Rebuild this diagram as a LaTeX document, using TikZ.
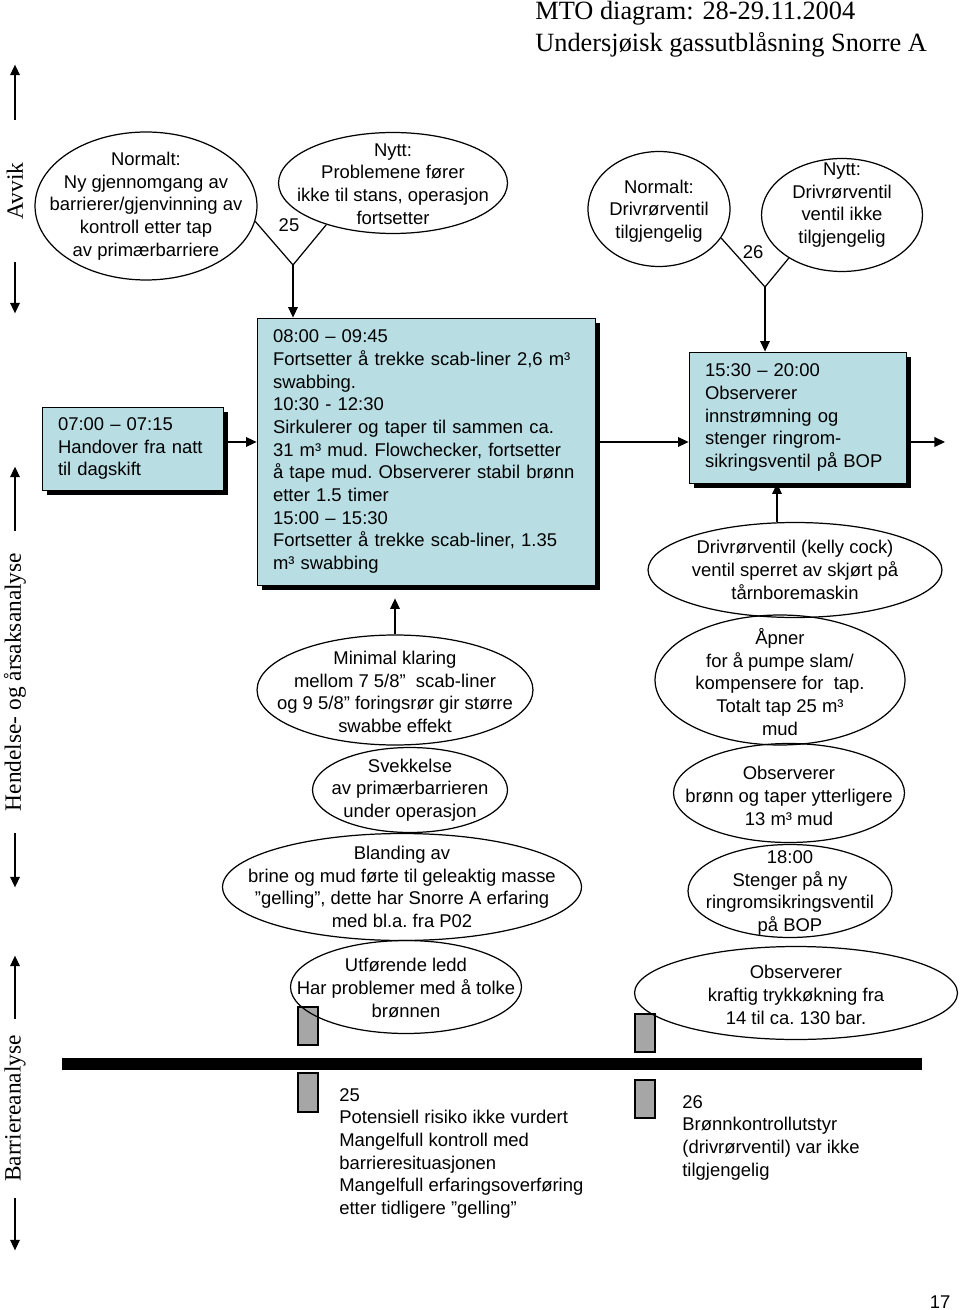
\documentclass[tikz,border=0pt]{standalone}
\usepackage{fontspec}
\setmainfont{Liberation Serif}
\setsansfont{Liberation Sans}
\usetikzlibrary{shapes.geometric,arrows.meta,shadows}

\definecolor{boxblue}{RGB}{184,222,228}
\definecolor{barrgray}{RGB}{166,166,166}

\tikzset{
	sanstext/.style={font=\sffamily\fontsize{10.5}{12.9}\selectfont\frenchspacing},
	txt/.style={sanstext, align=center, inner sep=0pt},
	oval/.style 2 args={ellipse, draw, line width=0.7pt, minimum width=#1cm, minimum height=#2cm, inner sep=0pt},
	event/.style={sanstext, draw, line width=0.5pt, fill=boxblue, align=left, inner xsep=0.32cm,
		drop shadow={shadow xshift=0.1cm, shadow yshift=-0.1cm, fill=black, opacity=1}},
	arr/.style={-{Triangle[length=6pt,width=5.5pt]}, line width=0.7pt},
	axislabel/.style={rotate=90, font=\fontsize{13.3}{16}\selectfont, inner sep=0pt},
	barr/.style={draw, line width=0.7pt, fill=barrgray},
}

\begin{document}
\begin{tikzpicture}[x=0.02cm, y=-0.02cm]
	\useasboundingbox (0,0) rectangle (960,1310);
	\clip (0,0) rectangle (960,1310);
	
	%title
	\node[anchor=north west, inner sep=0pt, align=left, font=\fontsize{15}{18}\selectfont] (tittel) at (535,1)
	{MTO diagram: 28-29.11.2004\\Undersjøisk gassutblåsning Snorre A};
	
	%left axis
	\node[axislabel, minimum width=2.84cm] (avvik) at (15,191) {Avvik};
	\draw[arr] (avvik.east) -- ++(0,-55);
	\draw[arr] (avvik.west) -- ++(0,51);
	\node[axislabel, minimum width=6.04cm] (hendelse) at (15,682) {Hendelse- og årsaksanalyse};
	\draw[arr] (hendelse.east) -- ++(0,-64);
	\draw[arr] (hendelse.west) -- ++(0,54);
	\node[axislabel, minimum width=3.58cm] (barriere) at (15,1108.5) {Barriereanalyse};
	\draw[arr] (barriere.east) -- ++(0,-63);
	\draw[arr] (barriere.west) -- ++(0,52);
	
	%deviation 25
	\node[oval={4.44}{2.96}] (normA) at (146,206) {};
	\node[txt] (normAT) at (normA) {Normalt:\\Ny gjennomgang av\\barrierer/gjenvinning av\\kontroll etter tap\\av primærbarriere};
	\node[oval={4.58}{2.02}] (nyttA) at (393,183) {};
	\node[txt] (nyttAT) at (393,184) {Nytt:\\Problemene fører\\ikke til stans, operasjon\\fortsetter};
	\coordinate (v25) at (293,265);
	\draw[line width=0.7pt] (normA.-8) -- (v25) -- (nyttA.-148);
	\node[sanstext, inner sep=0pt] (n25) at (289,225) {25};
	
	%deviation 26
	\node[oval={2.84}{2.3}] (normB) at (659,209) {};
	\node[txt] (normBT) at (659,211) {Normalt:\\Drivrørventil\\tilgjengelig};
	\node[oval={3.22}{2.26}] (nyttB) at (842,215) {};
	\node[txt] (nyttBT) at (842,205) {Nytt:\\Drivrørventil\\ventil ikke\\tilgjengelig};
	\coordinate (v26) at (765,287);
	\draw[line width=0.7pt] (normB.-25) -- (v26) -- (nyttB.-141);
	\node[sanstext, inner sep=0pt] (n26) at (753,252) {26};
	
	%events
	\node[event, text width=2.98cm, minimum height=1.66cm] (handover) at (132.5,448.5)
	{07:00 – 07:15\\Handover fra natt\\til dagskift};
	\node[event, text width=6.12cm, minimum height=5.34cm] (tidlig) at (426,451.5)
	{08:00 – 09:45\\Fortsetter å trekke scab-liner 2,6 m³\\swabbing.\\10:30 - 12:30\\Sirkulerer og taper til sammen ca.\\31 m³ mud. Flowchecker, fortsetter\\å tape mud. Observerer stabil brønn\\etter 1.5 timer\\15:00 – 15:30\\Fortsetter å trekke scab-liner, 1.35\\m³ swabbing};
	\node[event, text width=3.70cm, minimum height=2.62cm] (sent) at (797.5,417.5)
	{15:30 – 20:00\\Observerer\\innstrømning og\\stenger ringrom-\\sikringsventil på BOP};
	\coordinate (videre) at (945,442);
	
	\draw[arr] (v25) -- (v25 |- tidlig.north);
	\draw[arr] (v26) -- (v26 |- sent.north);
	\draw[arr] ([yshift=0.13cm]handover.east) -- ([yshift=0.13cm]handover.east -| tidlig.west);
	\draw[arr] ([yshift=0.19cm]tidlig.east) -- ([yshift=0.19cm]tidlig.east -| sent.west);
	\draw[arr] (sent.east |- videre) -- (videre);
	
	%barriers
	\fill (62,1058) rectangle (922,1070);
	\draw[barr] (298,1007) rectangle (318,1045);
	\draw[barr] (298,1073) rectangle (318,1112);
	\draw[barr] (635,1014) rectangle (655,1052);
	\draw[barr] (635,1080) rectangle (655,1118);
	
	%causes, left
	\node[oval={5.52}{2.2}] (klaring) at (395,690) {};
	\node[txt] (klaringT) at (395,692) {Minimal klaring\\mellom 7 5/8”\ \ scab-liner\\og 9 5/8” foringsrør gir større\\swabbe effekt};
	\node[oval={3.9}{1.7}] (svekk) at (410,790) {};
	\node[txt] (svekkT) at (svekk) {Svekkelse\\av primærbarrieren\\under operasjon};
	\node[oval={7.18}{2.14}] (bland) at (402,887) {};
	\node[txt] (blandT) at (bland) {Blanding av\\brine og mud førte til geleaktig masse\\”gelling”, dette har Snorre A erfaring\\med bl.a. fra P02};
	\node[oval={4.62}{1.86}] (utfor) at (406,987) {};
	\node[txt] (utforT) at (406,988) {Utførende ledd\\Har problemer med å tolke\\brønnen};
	\draw[arr] (klaring.north) -- ([yshift=-0.26cm]klaring.north |- tidlig.south);
	
	%causes, right
	\node[oval={5.88}{1.9}] (kelly) at (795,570) {};
	\node[txt] (kellyT) at (kelly) {Drivrørventil (kelly cock)\\ventil sperret av skjørt på\\tårnboremaskin};
	\node[oval={5.0}{2.6}] (apner) at (780,680) {};
	\node[txt] (apnerT) at (780,682) {Åpner\\for å pumpe slam/\\kompensere for\ \ tap.\\Totalt tap 25 m³\\mud};
	\node[oval={4.62}{1.98}] (obsbr) at (789,793) {};
	\node[txt] (obsbrT) at (789,796) {Observerer\\brønn og taper ytterligere\\13 m³ mud};
	\node[oval={4.08}{1.86}] (stenger) at (790,891) {};
	\node[txt] (stengerT) at (790,893) {18:00\\Stenger på ny\\ringromsikringsventil\\på BOP};
	\node[oval={6.46}{1.86}] (kraftig) at (796,993) {};
	\node[txt] (kraftigT) at (796,995) {Observerer\\kraftig trykkøkning fra\\14 til ca. 130 bar.};
	\draw[arr] ([xshift=-0.36cm]kelly.north) -- ([xshift=-0.36cm]kelly.north |- sent.south);
	
	%barrier texts
	\node[sanstext, align=left, anchor=north west, inner sep=0pt] (tiltak25) at (339,1088)
	{25\\Potensiell risiko ikke vurdert\\Mangelfull kontroll med\\barrieresituasjonen\\Mangelfull erfaringsoverføring\\etter tidligere ”gelling”};
	\node[sanstext, align=left, anchor=north west, inner sep=0pt] (tiltak26) at (682,1095)
	{26\\Brønnkontrollutstyr\\(drivrørventil) var ikke\\tilgjengelig};
	
	\node[sanstext, anchor=north, inner sep=0pt] (side) at (940,1295) {17};
\end{tikzpicture}
\end{document}
